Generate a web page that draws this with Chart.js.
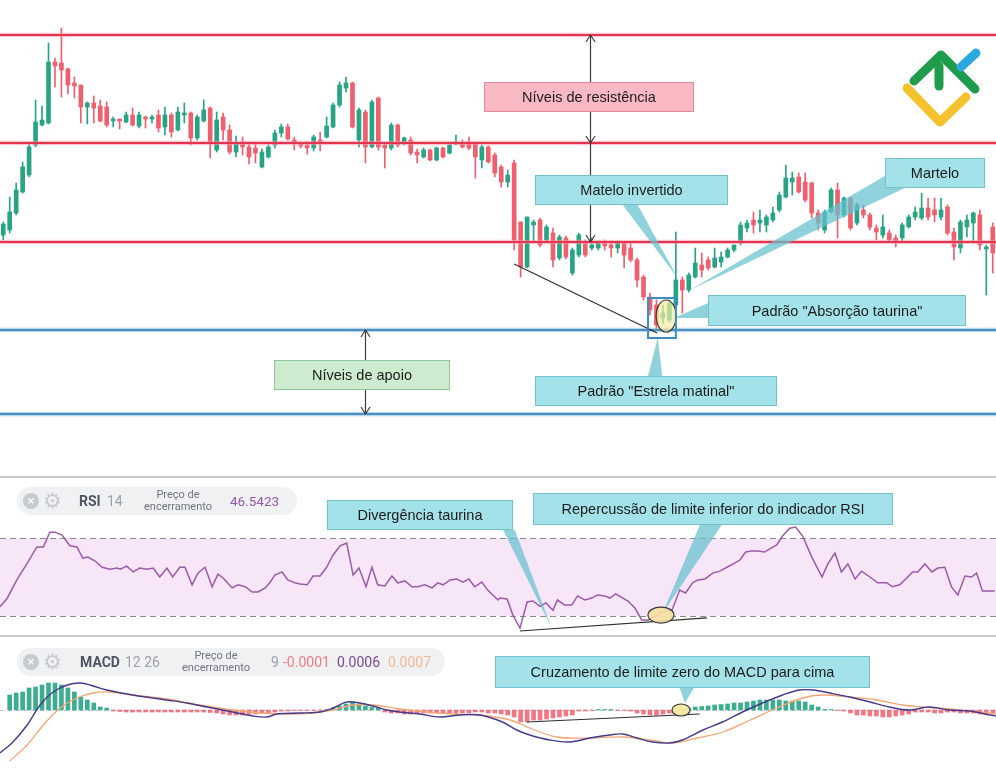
<!DOCTYPE html>
<html>
<head>
<meta charset="utf-8">
<title>Níveis, padrões de velas, RSI e MACD</title>
<script src="https://cdn.jsdelivr.net/npm/chart.js@4.4.1/dist/chart.umd.min.js"></script>
<style>
  body { margin: 0; width: 996px; height: 768px; overflow: hidden; background: #fff; position: relative; }
  canvas { position: absolute; left: 0; }
  .sep { position: absolute; left: 0; width: 996px; height: 2px; background: #c8c8c8; }
  .pill { position: absolute; left: 17px; height: 28px; border-radius: 14px; background: #f0f1f3;
          font-family: Roboto, "Noto Sans", sans-serif; color: #9aa1ab; font-size: 14px; }
  .pill span, .pill div { position: absolute; white-space: nowrap; }
  .ico { top: 6px; width: 16px; height: 16px; border-radius: 8px; background: #c6cad1; color: #fff;
         font-size: 13px; line-height: 16px; text-align: center; }
  .gear { top: 1px; font-size: 21px; line-height: 26px; color: #c6cad1; font-family: "DejaVu Sans", sans-serif; }
  .t { top: 0; line-height: 28px; }
  .b { font-weight: bold; color: #4d5563; }
  .src { top: 2px; width: 90px; text-align: center; font-size: 11px; line-height: 12px; color: #6f7580; }
</style>
</head>
<body>
<canvas id="price" width="996" height="476" style="top:0"></canvas>
<div class="sep" style="top:476px"></div>
<canvas id="rsi" width="996" height="157" style="top:478px"></canvas>
<div class="sep" style="top:635px"></div>
<canvas id="macd" width="996" height="131" style="top:637px"></canvas>

<div class="pill" style="top:487px;width:280px">
  <span class="ico" style="left:6px">×</span>
  <span class="gear" style="left:26px">⚙</span>
  <span class="t b" style="left:62px">RSI</span>
  <span class="t" style="left:90px">14</span>
  <div class="src" style="left:116px">Preço de<br>encerramento</div>
  <span class="t" style="left:213px;color:#9459ab;font-size:13.5px">46.5423</span>
</div>
<div class="pill" style="top:648px;width:428px">
  <span class="ico" style="left:6px">×</span>
  <span class="gear" style="left:26px">⚙</span>
  <span class="t b" style="left:63px">MACD</span>
  <span class="t" style="left:108px">12 26</span>
  <div class="src" style="left:154px">Preço de<br>encerramento</div>
  <span class="t" style="left:254px">9</span>
  <span class="t" style="left:266px;color:#f07c84">-0.0001</span>
  <span class="t" style="left:320px;color:#7a4791">0.0006</span>
  <span class="t" style="left:371px;color:#f3b894">0.0007</span>
</div>

<script>
// velas (preço em pontos)
var opens = [
  265,270,287,308,325,355,375,377,438,437, 431,417,415,393,397,394,393,379,381,378,
  385,374,383,381,385,373,385,370,385,387, 362,379,392,350,383,370,348,358,353,352,
  333,343,355,367,373,360,357,355,352,360, 363,373,395,412,417,360,388,353,402,355,
  352,375,358,360,348,343,350,340,352,347, 356,357,358,357,340,353,345,333,318,337,
  278,233,275,280,260,267,242,262,227,245, 258,252,252,257,255,252,257,252,240,223,
  203,195,182,180,195,220,210,223,235,240, 233,238,243,250,257,272,280,277,275,280,
  290,303,318,323,318,317,287,270,288,310, 285,302,277,290,285,272,265,267,262,262,
  273,283,282,292,290,283,293,268,252,273, 277,285,251,273
];
var highs = [
  278,303,317,338,358,400,394,457,442,472, 432,423,415,398,404,400,398,383,381,388,
  392,388,384,385,390,393,387,393,397,388, 385,400,393,388,387,375,364,363,356,356,
  351,355,370,376,376,363,358,358,365,368, 383,397,418,423,418,392,390,400,403,357,
  377,376,363,363,351,352,351,353,353,358, 365,360,363,358,355,354,347,335,330,340,
  278,283,280,282,275,272,265,264,252,267, 260,262,259,260,257,259,258,257,242,225,
  207,200,195,200,268,223,227,252,247,243, 252,248,252,255,278,280,288,290,285,293,
  308,335,328,327,327,318,290,290,312,317, 303,303,297,295,287,275,285,270,265,277,
  285,293,307,302,302,302,295,272,280,285, 288,290,255,277
];
var lows = [
  260,267,285,307,323,353,374,376,413,403, 406,402,377,376,377,378,373,373,371,377,
  374,372,372,377,368,365,363,369,377,355, 360,378,342,348,360,346,343,345,336,337,
  332,342,352,363,360,350,352,346,349,349, 362,372,393,408,372,353,337,352,350,332,
  350,353,355,345,337,342,339,339,342,346, 355,352,350,322,332,337,323,313,313,250,
  223,232,258,253,258,233,240,241,225,243, 243,250,250,250,243,247,232,238,213,200,
  185,170,176,178,193,187,208,222,223,230, 232,233,242,248,255,268,267,268,268,278,
  288,302,305,307,298,282,270,267,287,262, 283,270,275,282,270,260,262,258,253,258,
  272,280,280,280,278,280,265,240,247,263, 257,250,205,227
];
var closes = [
  276,288,310,333,353,378,380,438,434,430, 415,414,393,397,392,379,375,381,379,385,
  375,385,381,383,372,385,368,388,387,362, 383,390,357,380,370,348,357,353,343,347,
  348,353,367,373,361,357,354,352,363,357, 374,395,415,417,373,390,353,398,353,352,
  375,355,362,347,345,350,340,352,343,355, 358,353,352,343,353,338,327,318,325,260,
  233,283,278,255,273,240,263,243,250,265, 245,255,257,254,252,257,245,240,220,203,
  190,175,187,197,220,210,225,237,230,232, 242,243,250,255,275,277,275,280,283,287,
  305,322,322,308,300,287,277,288,310,285, 302,272,295,285,273,268,273,260,258,275,
  283,288,292,283,285,290,267,253,278,280, 287,255,253,247
];
var resistLevels = [465, 357, 258];
var supportLevels = [170, 86];

// RSI 14 (posição em barras, valor)
var rsiAt = [
  -0.5,0.6,2.1,3.7,5.2,6.2,7.2,8.0,9.1,10.3, 11.4,12.3,13.1,14.2,15.3,16.5,17.6,18.1,19.1,20.1,
  21.1,22.2,23.2,24.2,25.3,26.2,27.3,28.1,29.2,30.1, 31.2,32.3,33.2,34.0,35.4,36.3,37.4,38.5,39.4,40.5,
  41.2,42.0,43.1,44.0,45.1,45.9,47.0,47.9,49.0,50.0, 51.0,52.1,53.1,54.1,55.0,56.1,57.0,57.9,59.0,60.1,
  61.0,62.1,63.2,64.1,65.2,66.3,67.2,68.0,69.1,70.1, 71.1,72.0,72.9,74.0,74.9,76.5,76.8,77.9,78.8,79.9,
  81.0,81.9,83.0,83.9,85.0,85.7,86.8,87.9,88.8,89.9, 91.0,91.9,93.0,93.8,94.7,95.8,96.6,97.7,98.7,99.7,
  100.7,101.8,103.4,104.6,105.5,106.6,107.4,108.5,109.7,110.8, 111.9,112.8,113.9,114.8,115.7,116.7,117.7,118.8,119.6,120.5,
  121.6,122.5,123.6,125.0,126.6,127.5,128.6,129.6,130.6,131.7, 132.7,134.0,135.2,136.6,137.5,138.6,139.7,140.6,141.4,142.5,
  143.6,144.5,145.6,146.6,147.6,148.7,149.7,150.5,151.4,153.3
];
var rsiValues = [
  34.8,39,48.5,57,65.4,65.4,73,73,71.5,66, 65.4,59.7,60.2,58.2,55,54,54.6,54,55.6,52.6,
  54.6,54,54.6,50,54.6,50,55,55,46,52, 55,45,51.5,49.5,44.4,46,45,42.3,42.3,44.4,
  47,51,52.6,48.5,47,46.4,46,50.5,50.5,55, 61.3,66,67.4,51,54.6,45,55,46,45.4,50.5,
  47,48,45,45,46,44.4,47,46,48.5,49, 47.4,49,45,47.4,43.3,38.2,39.2,38.7,30.5,23.8,
  37.2,37.7,35,36.7,33,38.2,35.6,35.6,40.3,38.2, 39.2,40.8,40.3,39.2,41.3,39.2,37.7,34,28,28,
  29.5,32,33,43.3,41.8,47,48.5,49,52,53, 55,56.6,58.7,62.8,63.3,63.3,62.8,64.9,66.4,71,
  75,75.6,71,60.3,50,56.7,62.3,52.6,56.7,49, 53,50,47,47,45,46,49.5,52.6,52.6,56.7,
  52.6,54.6,55,45,40.8,50.5,50,52,42.8,42.8
];
var rsiUpper = 70, rsiLower = 30;

// MACD 12 26 9 (×0.0001)
var macdAt = [
  -0.5,1.5,3.7,5.7,7.7,9.9,11.9,13.9,16,20, 25.3,28.4,31.5,35.5,38.6,40.8,42.3,45.9,49,51,
  53.1,55.1,57.2,59.3,61.3,64.4,67.5,70.6,73.7,77.2, 79.4,81.4,84.5,87.6,90.7,93.8,95.8,98,100.4,103,
  105,108.2,111.2,114.3,117.4,120.5,123.1,125.2,127.8,130.9, 134,137,140.1,143.2,146.3,149.4,152.6,153.5
];
var macdLine = [
  -4.3,-3.2,-1.5,0.5,1.8,2.5,2.7,2.4,2.0,1.5, 1.0,0.7,0.3,-0.2,-0.6,-0.7,-0.4,-0.3,-0.2,0.2,
  0.8,0.7,0.4,0,-0.2,-0.4,-0.7,-0.5,-0.5,-1.2, -2.0,-2.5,-3.0,-3.2,-2.8,-2.5,-2.4,-2.8,-3.2,-3.3,
  -3.0,-2.0,-1.2,-0.2,0.7,1.5,2.0,2.0,1.7,1.3, 0.8,0.3,0,0.3,0,-0.1,-0.5,-0.6
];
var signalAt = [
  1,3.7,6.2,8.8,11.4,13.9,16.5,20,25.3,30.4, 35.5,39.7,43.9,47.9,51,54.1,57.2,61.3,65.5,69.5,
  73.7,78.4,81.4,85.6,90.7,95.8,100,103.6,107.3,111.3, 115.5,119.6,123.6,126.7,130.9,135.1,139.1,142.2,146.4,149.5,
  152.6,153.5
];
var signalLine = [
  -5.1,-3.5,-1.5,0.2,1.2,1.7,1.8,1.5,1.1,0.5, 0,-0.3,-0.4,-0.3,0,0.5,0.5,0.1,-0.2,-0.4,
  -0.5,-1.0,-1.8,-2.7,-2.8,-2.7,-3.0,-3.3,-2.8,-2.2, -1.0,0.2,1.2,1.5,1.3,1.0,0.5,0.3,0.1,-0.1,
  -0.3,-0.4
];
var histogram = [
  null,1.5,1.7,1.8,2.2,2.3,2.5,2.7,2.7,2.5, 2.2,1.8,1.3,1.0,0.7,0.3,0.2,-0.1,-0.15,-0.2,
  -0.2,-0.2,-0.2,-0.2,-0.2,-0.2,-0.2,-0.2,-0.2,-0.2, -0.2,-0.2,-0.25,-0.3,-0.4,-0.5,-0.5,-0.5,-0.4,-0.4,
  -0.3,-0.3,-0.2,-0.1,-0.1,-0.05,-0.05,-0.05,-0.05,-0.05, 0.05,0.2,0.4,0.6,0.8,0.6,0.4,0.3,0.2,-0.2,
  -0.3,-0.3,-0.4,-0.4,-0.3,-0.3,-0.3,-0.3,-0.3,-0.3, -0.3,-0.3,-0.3,-0.2,-0.2,-0.3,-0.3,-0.4,-0.5,-0.7,
  -1.2,-1.2,-1.0,-1.0,-0.9,-0.8,-0.7,-0.6,-0.5,-0.1, -0.1,-0.05,0.05,0.05,0.05,-0.05,-0.05,-0.1,-0.3,-0.4,
  -0.5,-0.5,-0.4,-0.3,-0.1,0.1,0.2,0.3,0.35,0.4, 0.5,0.55,0.6,0.7,0.7,0.8,0.9,1.0,1.0,1.0,
  1.0,0.9,0.9,0.9,0.8,0.5,0.3,0.05,0.05,-0.05, -0.1,-0.3,-0.5,-0.5,-0.6,-0.6,-0.7,-0.7,-0.6,-0.5,
  -0.4,-0.2,-0.2,-0.2,-0.3,-0.3,-0.2,-0.2,-0.3,-0.3, -0.3,-0.4,-0.4,-0.4
];

var UP = '#27a484', DOWN = '#ef5f6e';
var CYAN = '#a4e2e9', CYAN_EDGE = '#72c1cd';
var LABEL_FONT = '14.5px "Liberation Sans", Arial, sans-serif';

// anotações, em coordenadas dos dados (barra, valor)
var priceNotes = [
  { text: 'Níveis de resistência', from: [74.3, 418], to: [106.8, 388], fill: '#f9b9c2', edge: '#e3899a' },
  { text: 'Níveis de apoio', from: [41.9, 140], to: [69.1, 110], fill: '#cdeccf', edge: '#90c89b' },
  { text: 'Matelo invertido', from: [82.2, 325], to: [112.1, 295], wedge: [[95.8, 295], [98.1, 295], [104.3, 222]] },
  { text: 'Martelo', from: [136.3, 342], to: [151.8, 312], wedge: [[136.3, 324], [139.4, 312], [106.2, 210]] },
  { text: 'Padrão "Absorção taurina"', from: [109, 205], to: [148.9, 174], wedge: [[109, 197], [109, 182], [103.7, 182]] },
  { text: 'Padrão "Estrela matinal"', from: [82.2, 124], to: [119.6, 94], wedge: [[99.7, 124], [101.9, 124], [101.2, 162]] }
];
var rsiNotes = [
  { text: 'Divergência taurina', from: [50.1, 89.5], to: [78.8, 74.1], wedge: [[77.3, 74.1], [79.1, 74.1], [84.8, 23.8]] },
  { text: 'Repercussão de limite inferior do indicador RSI', from: [81.9, 93.1], to: [137.6, 76.7], wedge: [[107.7, 76.7], [111.1, 76.7], [101.9, 31]] }
];
var macdNotes = [
  { text: 'Cruzamento de limite zero do MACD para cima', from: [76, 5.4], to: [134, 2.2], wedge: [[104.6, 2.2], [106.8, 2.2], [105.4, 0.7]] }
];

function px(chart, x, y) {
  return [chart.scales.x.getPixelForValue(x), chart.scales.y.getPixelForValue(y)];
}
function segment(chart, ctx, p, q, color, width) {
  var a = px(chart, p[0], p[1]), b = px(chart, q[0], q[1]);
  ctx.strokeStyle = color; ctx.lineWidth = width;
  ctx.beginPath(); ctx.moveTo(a[0], a[1]); ctx.lineTo(b[0], b[1]); ctx.stroke();
}
function hLine(chart, ctx, v, halo, core) {
  var y = chart.scales.y.getPixelForValue(v), area = chart.chartArea;
  ctx.strokeStyle = halo; ctx.lineWidth = 4.5;
  ctx.beginPath(); ctx.moveTo(area.left, y); ctx.lineTo(area.right, y); ctx.stroke();
  ctx.strokeStyle = core; ctx.lineWidth = 2;
  ctx.beginPath(); ctx.moveTo(area.left, y); ctx.lineTo(area.right, y); ctx.stroke();
}
function vArrow(chart, ctx, at, top, bottom, heads) {
  var x = Math.round(chart.scales.x.getPixelForValue(at)) + 0.5;
  var y0 = chart.scales.y.getPixelForValue(top), y1 = chart.scales.y.getPixelForValue(bottom);
  ctx.strokeStyle = '#3c3c3c'; ctx.lineWidth = 1.2;
  ctx.beginPath(); ctx.moveTo(x, y0); ctx.lineTo(x, y1); ctx.stroke();
  heads.forEach(function (h) {
    var y = chart.scales.y.getPixelForValue(h[0]), d = h[1];
    ctx.beginPath(); ctx.moveTo(x - 4.5, y - d * 7); ctx.lineTo(x, y); ctx.lineTo(x + 4.5, y - d * 7); ctx.stroke();
  });
}
function ellipse(chart, ctx, c, rx, ry, fill) {
  var p = px(chart, c[0], c[1]);
  ctx.fillStyle = fill; ctx.strokeStyle = '#3a3a3a'; ctx.lineWidth = 1.2;
  ctx.beginPath(); ctx.ellipse(p[0], p[1], rx, ry, 0, 0, Math.PI * 2); ctx.fill(); ctx.stroke();
}
function drawNotes(chart, ctx, notes) {
  notes.forEach(function (n) {
    if (!n.wedge) return;
    var a = px(chart, n.wedge[0][0], n.wedge[0][1]), b = px(chart, n.wedge[1][0], n.wedge[1][1]), t = px(chart, n.wedge[2][0], n.wedge[2][1]);
    ctx.fillStyle = 'rgba(100,192,207,0.72)';
    ctx.beginPath(); ctx.moveTo(a[0], a[1]); ctx.lineTo(b[0], b[1]); ctx.lineTo(t[0], t[1]); ctx.closePath(); ctx.fill();
  });
  notes.forEach(function (n) {
    var a = px(chart, n.from[0], n.from[1]), b = px(chart, n.to[0], n.to[1]);
    var x0 = Math.round(a[0]), y0 = Math.round(a[1]);
    var w = Math.round(b[0]) - x0, h = Math.round(b[1]) - y0;
    ctx.fillStyle = n.fill || CYAN; ctx.fillRect(x0, y0, w, h);
    ctx.strokeStyle = n.edge || CYAN_EDGE; ctx.lineWidth = 1;
    ctx.strokeRect(x0 + 0.5, y0 + 0.5, w - 1, h - 1);
    ctx.fillStyle = '#1c1c1c'; ctx.font = LABEL_FONT;
    ctx.textAlign = 'center'; ctx.textBaseline = 'middle';
    ctx.fillText(n.text, x0 + w / 2, y0 + h / 2 + 1);
  });
}
function drawLogo(ctx) {
  ctx.lineCap = 'round'; ctx.lineJoin = 'round'; ctx.lineWidth = 9;
  ctx.strokeStyle = '#f4c22d';
  ctx.beginPath(); ctx.moveTo(907, 88); ctx.lineTo(940, 122); ctx.lineTo(966, 97); ctx.stroke();
  ctx.strokeStyle = '#1e9b4b';
  ctx.beginPath(); ctx.moveTo(914, 81); ctx.lineTo(941, 55); ctx.lineTo(975, 89); ctx.stroke();
  ctx.beginPath(); ctx.moveTo(939, 86); ctx.lineTo(939, 66); ctx.stroke();
  ctx.strokeStyle = '#2aa8e0';
  ctx.beginPath(); ctx.moveTo(961, 67); ctx.lineTo(976, 53); ctx.stroke();
}

var noEvents = { responsive: false, animation: false, events: [],
  plugins: { legend: { display: false }, tooltip: { enabled: false } } };

// gráfico de preço
var candleColors = closes.map(function (c, i) { return c >= opens[i] ? UP : DOWN; });
var priceDecor = {
  id: 'priceDecor',
  afterDatasetsDraw: function (chart) {
    var ctx = chart.ctx; ctx.save();
    resistLevels.forEach(function (v) { hLine(chart, ctx, v, 'rgba(244,150,165,0.55)', '#e4344e'); });
    supportLevels.forEach(function (v) { hLine(chart, ctx, v, 'rgba(140,186,216,0.6)', '#4a8fc1'); });
    vArrow(chart, ctx, 90.7, 465, 258, [[465, -1], [357, 1], [258, 1]]);
    vArrow(chart, ctx, 55.9, 170, 86, [[170, -1], [86, 1]]);
    segment(chart, ctx, [79, 236], [101.1, 167], '#2e2e2e', 1.2);
    drawNotes(chart, ctx, priceNotes);
    ellipse(chart, ctx, [102.5, 184], 10, 16, 'rgba(245,236,160,0.7)');
    var s0 = px(chart, 99.7, 202), s1 = px(chart, 104.0, 162);
    ctx.strokeStyle = '#3b8dc3'; ctx.lineWidth = 2;
    ctx.strokeRect(s0[0], s0[1], s1[0] - s0[0], s1[1] - s0[1]);
    drawLogo(ctx);
    ctx.restore();
  }
};
new Chart(document.getElementById('price'), {
  type: 'bar',
  data: {
    labels: opens.map(function (v, i) { return i; }),
    datasets: [
      { label: 'corpo', data: opens.map(function (o, i) { return [o, closes[i]]; }),
        backgroundColor: candleColors, barThickness: 4, grouped: false },
      { label: 'sombra', data: lows.map(function (l, i) { return [l, highs[i]]; }),
        backgroundColor: candleColors, barThickness: 1, grouped: false }
    ]
  },
  options: Object.assign({}, noEvents, {
    scales: { x: { display: false }, y: { display: false, min: 24, max: 500 } }
  }),
  plugins: [priceDecor]
});

// RSI
var rsiDecor = {
  id: 'rsiDecor',
  beforeDatasetsDraw: function (chart) {
    var ctx = chart.ctx, area = chart.chartArea, y = chart.scales.y;
    var yu = y.getPixelForValue(rsiUpper), yl = y.getPixelForValue(rsiLower);
    ctx.save();
    ctx.fillStyle = '#f7e5f8'; ctx.fillRect(area.left, yu, area.right - area.left, yl - yu);
    ctx.strokeStyle = '#8a8a8a'; ctx.lineWidth = 1; ctx.setLineDash([6, 4]);
    [yu, yl].forEach(function (v) {
      ctx.beginPath(); ctx.moveTo(area.left, Math.round(v) + 0.5); ctx.lineTo(area.right, Math.round(v) + 0.5); ctx.stroke();
    });
    ctx.restore();
  },
  afterDatasetsDraw: function (chart) {
    var ctx = chart.ctx; ctx.save();
    segment(chart, ctx, [79.9, 22.3], [108.8, 29], '#2e2e2e', 1.2);
    drawNotes(chart, ctx, rsiNotes);
    ellipse(chart, ctx, [101.7, 30.5], 13, 8, 'rgba(246,224,160,0.9)');
    ctx.restore();
  }
};
new Chart(document.getElementById('rsi'), {
  type: 'line',
  data: {
    datasets: [{ label: 'RSI', data: rsiAt.map(function (x, i) { return { x: x, y: rsiValues[i] }; }),
      borderColor: '#9a5ba6', borderWidth: 1.5, pointRadius: 0, tension: 0 }]
  },
  options: Object.assign({}, noEvents, {
    scales: { x: { type: 'linear', display: false, min: -0.5, max: 153.5 },
              y: { display: false, min: 20.26, max: 100.77 } }
  }),
  plugins: [rsiDecor]
});

// MACD
var macdDecor = {
  id: 'macdDecor',
  beforeDatasetsDraw: function (chart) {
    var ctx = chart.ctx, area = chart.chartArea, y0 = Math.round(chart.scales.y.getPixelForValue(0)) + 0.5;
    ctx.save();
    ctx.strokeStyle = '#c9c9c9'; ctx.lineWidth = 1; ctx.setLineDash([4, 4]);
    ctx.beginPath(); ctx.moveTo(area.left, y0); ctx.lineTo(area.right, y0); ctx.stroke();
    ctx.restore();
  },
  afterDatasetsDraw: function (chart) {
    var ctx = chart.ctx; ctx.save();
    segment(chart, ctx, [81, -1.2], [107.7, -0.4], '#2e2e2e', 1.2);
    drawNotes(chart, ctx, macdNotes);
    ellipse(chart, ctx, [104.8, 0], 9, 6, 'rgba(246,232,160,0.95)');
    ctx.restore();
  }
};
new Chart(document.getElementById('macd'), {
  type: 'bar',
  data: {
    datasets: [
      { type: 'line', label: 'MACD', data: macdAt.map(function (x, i) { return { x: x, y: macdLine[i] }; }),
        borderColor: '#47398a', borderWidth: 1.4, pointRadius: 0, tension: 0.35 },
      { type: 'line', label: 'Sinal', data: signalAt.map(function (x, i) { return { x: x, y: signalLine[i] }; }),
        borderColor: '#f2a676', borderWidth: 1.3, pointRadius: 0, tension: 0.35 },
      { type: 'bar', label: 'Histograma', data: histogram.map(function (v, i) { return { x: i, y: v }; }),
        backgroundColor: histogram.map(function (v) { return v > 0 ? 'rgba(39,164,132,0.9)' : 'rgba(239,95,110,0.85)'; }),
        barThickness: 4, grouped: false }
    ]
  },
  options: Object.assign({}, noEvents, {
    scales: { x: { type: 'linear', display: false, min: -0.5, max: 153.5, offset: false },
              y: { display: false, min: -5.8, max: 7.3 } }
  }),
  plugins: [macdDecor]
});
</script>
</body>
</html>
